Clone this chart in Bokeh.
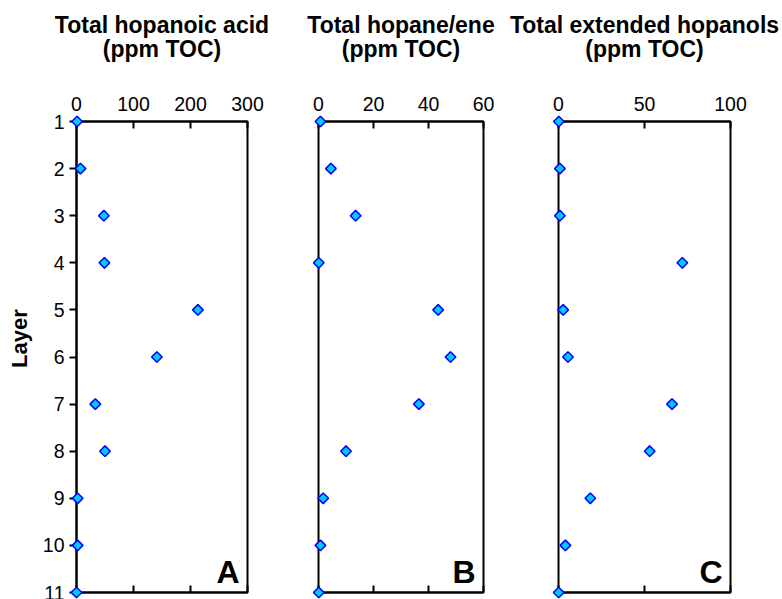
import numpy as np
from bokeh.plotting import figure
from bokeh.layouts import row
from bokeh.models import Range1d, FixedTicker, LinearAxis, Title, Label
from bokeh.embed import file_html
from bokeh.resources import INLINE

# ---- data ----
layers = [1, 2, 3, 4, 5, 6, 7, 8, 9, 10, 11]
hopanoic_acid = [1, 7, 48, 49, 213, 141, 33, 50, 2, 2, 0]
hopane_ene = [0.7, 4.5, 13.5, 0.1, 43.5, 48, 36.5, 10, 1.7, 0.7, 0.1]
ext_hopanols = [0.2, 0.8, 0.8, 72, 2.7, 5.5, 66, 53, 18.5, 4, 0.1]

ticks_a = [0, 100, 200, 300]
ticks_b = [0, 20, 40, 60]
ticks_c = [0, 50, 100]

title_a = ["Total hopanoic acid", "(ppm TOC)"]
title_b = ["Total hopane/ene", "(ppm TOC)"]
title_c = ["Total extended hopanols", "(ppm TOC)"]
letters = ["A", "B", "C"]
y_title = "Layer"

FONT = "Liberation Sans"
H = 599


def make_panel(values, ticks, titles, letter, width, bl, br, show_y):
    p = figure(width=width, height=H,
               x_range=Range1d(ticks[0], ticks[-1]),
               y_range=Range1d(layers[-1], layers[0]),
               x_axis_location="above",
               y_axis_location="left" if show_y else None,
               output_backend="svg", toolbar_location=None, title=None,
               min_border_left=bl, min_border_right=br,
               min_border_top=121, min_border_bottom=7)
    p.grid.visible = False
    p.outline_line_color = "black"
    p.outline_line_width = 2
    p.background_fill_color = "white"
    p.border_fill_color = "white"

    ax = p.xaxis[0]
    ax.ticker = FixedTicker(ticks=ticks)
    ax.major_tick_in = 7
    ax.major_tick_out = 0
    ax.minor_tick_line_color = None
    ax.axis_line_width = 2
    ax.major_tick_line_width = 2
    ax.major_label_text_font = FONT
    ax.major_label_text_font_size = "19.5px"
    ax.major_label_text_color = "black"
    ax.major_label_standoff = 11

    bx = LinearAxis(ticker=FixedTicker(ticks=ticks), major_tick_in=7, major_tick_out=0,
                    minor_tick_line_color=None, axis_line_width=2, major_tick_line_width=2,
                    major_label_text_font_size="1px", major_label_text_color=None,
                    major_label_standoff=0)
    p.add_layout(bx, "below")

    if show_y:
        ya = p.yaxis[0]
        ya.ticker = FixedTicker(ticks=layers)
        ya.major_tick_in = 0
        ya.major_tick_out = 7
        ya.minor_tick_line_color = None
        ya.axis_line_width = 2
        ya.major_tick_line_width = 2
        ya.major_label_text_font = FONT
        ya.major_label_text_font_size = "19.5px"
        ya.major_label_text_color = "black"
        ya.major_label_standoff = 5
        # leading no-break spaces lift the label a little above the frame centre,
        # as in the reference
        ya.axis_label = "\u00a0" * 6 + y_title
        ya.axis_label_text_font = FONT
        ya.axis_label_text_font_size = "22px"
        ya.axis_label_text_font_style = "bold"
        ya.axis_label_text_color = "black"
        ya.axis_label_standoff = 8

    # second title line sits nearest the axis, first line above it
    p.add_layout(Title(text=titles[1], align="center", text_font=FONT, text_font_size="23px",
                       text_font_style="bold", text_color="black", standoff=63), "above")
    p.add_layout(Title(text=titles[0], align="center", text_font=FONT, text_font_size="23px",
                       text_font_style="bold", text_color="black", standoff=-71), "above")

    r = p.scatter(values, layers, marker="square", angle=np.pi / 4, size=7.5,
                  fill_color="#00CCFF", line_color="#0000FF", line_width=1.5)
    r.level = "overlay"

    let = Label(x=ticks[-1], y=layers[-1], x_offset=-8, y_offset=21, text=letter,
                text_align="right", text_baseline="alphabetic",
                text_font=FONT, text_font_size="32px", text_font_style="bold",
                text_color="black")
    p.add_layout(let)
    return p


p1 = make_panel(hopanoic_acid, ticks_a, title_a, letters[0], 288, 76, 41, True)
p2 = make_panel(hopane_ene, ticks_b, title_b, letters[1], 219, 30, 24, False)
p3 = make_panel(ext_hopanols, ticks_c, title_c, letters[2], 275, 51, 52, False)

layout = row(p1, p2, p3, spacing=0)
open("out.html", "w").write(file_html(layout, INLINE))
